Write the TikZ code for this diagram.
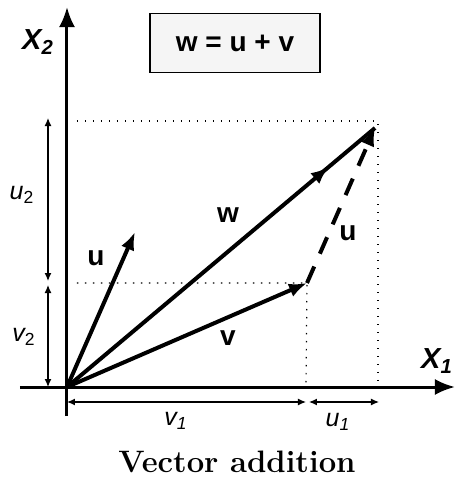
\documentclass[tikz,border=0pt]{standalone}
\usepackage{fontspec}
\newfontfamily\arialfont{Liberation Sans}
\usetikzlibrary{arrows.meta,decorations.markings}

\begin{document}
\begin{tikzpicture}[x=0.5pt,y=0.5pt,
  axis/.style={line width=1.5pt,-{Latex[length=10pt,width=8pt]}},
  vec/.style={line width=2pt,-{Latex[length=9pt,width=7pt]}},
  dim/.style={line width=0.6pt,{Latex[length=4pt,width=3.5pt]}-{Latex[length=4pt,width=3.5pt]}},
  guide/.style={line width=0.6pt,dash pattern=on 0.7pt off 3.3pt},
  lbl/.style={font=\arialfont\bfseries\fontsize{14}{16}\selectfont},
  comp/.style={font=\arialfont\itshape\fontsize{12.5}{14}\selectfont},
  axlbl/.style={font=\arialfont\bfseries\itshape\fontsize{14.5}{16}\selectfont}]
  \useasboundingbox (-67,-92) rectangle (388,387);
  % axes
  \coordinate (O) at (0,0);
  \coordinate (ybot) at (0,-29);
  \coordinate (ytop) at (0,380);
  \coordinate (xleft) at (-47,0);
  \coordinate (xright) at (388,0);
  \draw[axis] (ybot) -- (ytop);
  \draw[axis] (xleft) -- (xright);
  \node[axlbl] (x2) at (-29,345) {X\textsubscript{2}};
  \node[axlbl] (x1) at (370,26) {X\textsubscript{1}};
  % vector ends
  \coordinate (V) at (240,104);
  \coordinate (W) at (308,259);
  \coordinate (U) at (68,155);
  % guide lines
  \coordinate (vy) at (10,104);
  \coordinate (vx) at (239,0);
  \coordinate (wd) at (311,266);
  \coordinate (wy) at (10,266);
  \coordinate (wx) at (311,0);
  \draw[guide] (vy) -- (V) -- (vx);
  \draw[guide] (wy) -- (wd) -- (wx);
  % vectors
  \draw[vec] (O) -- (V);
  \draw[vec] (O) -- (U);
  \draw[line width=2pt,
    decoration={markings,mark=at position 0.85 with {\arrow{Latex[length=9pt,width=7pt]}}},
    postaction={decorate}] (O) -- (W);
  \draw[vec,dash pattern=on 9pt off 7pt] (V) -- (W);
  \node[lbl] (wlbl) at (161,172) {w};
  \node[lbl] (ulbl) at (29,129) {u};
  \node[lbl] (vlbl) at (161,49) {v};
  \node[lbl] (u2lbl) at (281,154) {u};
  % components
  \coordinate (a0) at (-19,0);
  \coordinate (a1) at (-19,102);
  \coordinate (a2) at (-19,106);
  \coordinate (a3) at (-19,269);
  \draw[dim] (a0) -- (a1);
  \draw[dim] (a2) -- (a3);
  \coordinate (b0) at (0,-15);
  \coordinate (b1) at (239,-15);
  \coordinate (b2) at (242,-15);
  \coordinate (b3) at (312,-15);
  \draw[dim] (b0) -- (b1);
  \draw[dim] (b2) -- (b3);
  \node[comp] (u2) at (-45,192) {u\textsubscript{\upshape 2}};
  \node[comp] (v2) at (-43,50) {v\textsubscript{\upshape 2}};
  \node[comp] (v1) at (109,-34) {v\textsubscript{1}};
  \node[comp] (u1) at (271,-35) {u\textsubscript{1}};
  % title
  \node[draw,fill=gray!8,line width=0.6pt,minimum width=85pt,minimum height=29.5pt,lbl]
    (title) at (168,344) {w = u + v};
  \node[font=\bfseries\fontsize{15.5}{18}\selectfont] (caption) at (170,-75) {Vector addition};
\end{tikzpicture}
\end{document}
